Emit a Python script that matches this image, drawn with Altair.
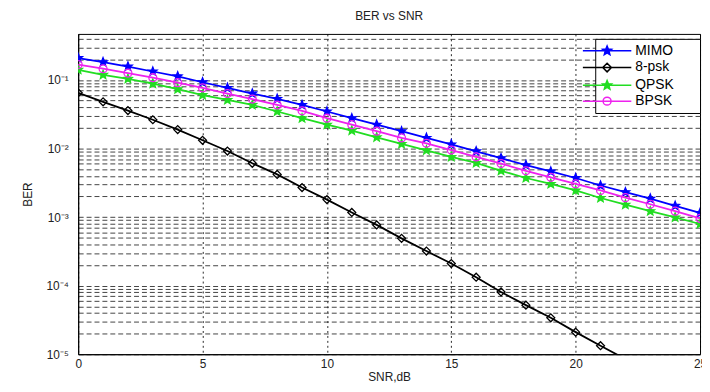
import math
import altair as alt
import pandas as pd

# ---------------- data ----------------
snr = list(range(0, 26))
series = ["MIMO", "8-psk", "QPSK", "BPSK"]
ber_mimo = [0.209, 0.182, 0.157, 0.133, 0.113, 0.0927, 0.0767, 0.0635, 0.0530, 0.0432,
            0.0347, 0.0277, 0.0223, 0.0179, 0.0143, 0.0115, 0.00912, 0.00723, 0.00573,
            0.00463, 0.00372, 0.00289, 0.00231, 0.00186, 0.00146, 0.00115]
ber_8psk = [0.065, 0.048, 0.0358, 0.0263, 0.0189, 0.0132, 0.0092, 0.0061, 0.0042, 0.0027,
            0.0018, 0.00117, 0.00077, 0.00049, 0.00032, 0.00021, 0.000133, 8.1e-5, 5.2e-5,
            3.4e-5, 2.1e-5, 1.33e-5, 8.5e-6, 5.5e-6, 3.6e-6, 2.3e-6]
ber_qpsk = [0.141, 0.119, 0.104, 0.0885, 0.0735, 0.0603, 0.0511, 0.0432, 0.0347, 0.0277,
            0.0223, 0.0183, 0.0146, 0.0117, 0.00942, 0.00755, 0.00618, 0.00474, 0.00372,
            0.00305, 0.00245, 0.00190, 0.00152, 0.00122, 0.000991, 0.000793]
ber_bpsk = [0.168, 0.146, 0.126, 0.108, 0.0914, 0.0767, 0.0635, 0.0527, 0.0432, 0.0355,
            0.0277, 0.0223, 0.0179, 0.0143, 0.0119, 0.00951, 0.00755, 0.00604, 0.00474,
            0.00380, 0.00305, 0.00245, 0.00192, 0.00154, 0.00122, 0.000958]
x_ticks = [0, 5, 10, 15, 20, 25]
y_major = [1e-5, 1e-4, 1e-3, 1e-2, 1e-1]
y_labels = ["10⁻⁵", "10⁻⁴", "10⁻³", "10⁻²", "10⁻¹"]

# ---------------- styling ----------------
colors = ["#0000ff", "#000000", "#22dd22", "#ee22ee"]
fills = ["#0000ff", "transparent", "#22dd22", "transparent"]
FONT = "Liberation Sans"

rows = []
for name, vals in zip(series, [ber_mimo, ber_8psk, ber_qpsk, ber_bpsk]):
    for s, b in zip(snr, vals):
        rows.append({"snr": s, "ber": b, "series": name})
df = pd.DataFrame(rows)


def star_pts(R, r):
    pts = []
    for i in range(10):
        ang = math.radians(-90 + 36 * i)
        rad = R if i % 2 == 0 else r
        pts.append((rad * math.cos(ang), rad * math.sin(ang)))
    return pts


def poly_path(pts):
    return "M" + " L".join(f"{px:.3f},{py:.3f}" for px, py in pts) + " Z"


star_unit = poly_path(star_pts(1.15, 0.5))
marker_shapes = [star_unit, "diamond", star_unit, "circle"]

# legend symbols: line + marker (unit = 2px with symbolSize 16)
leg_line = "M-12.25,0 L12.25,0"
leg_star = poly_path(star_pts(2.4, 1.05))
leg_diamond = "M0,-2.2 L2.2,0 L0,2.2 L-2.2,0 Z"
leg_circle = "M2,0 A2,2 0 1,1 -2,0 A2,2 0 1,1 2,0 Z"
legend_shapes = [leg_line + " " + leg_star, leg_line + " " + leg_diamond,
                 leg_line + " " + leg_star, leg_line + " " + leg_circle]

# y ticks: all decades with minor ticks (grid lines)
y_ticks = []
for k in range(-5, 0):
    for m in range(1, 10):
        v = float(f"{m}e{k}")
        if v <= 0.47:
            y_ticks.append(v)

label_expr = ""
for v, lab in zip(y_major, y_labels):
    label_expr += f"datum.value == {v!r} ? '{lab}' : "
label_expr += "''"

x_enc = alt.X("snr:Q",
              scale=alt.Scale(domain=[0, 25], nice=False, zero=False),
              axis=alt.Axis(values=x_ticks, title="SNR,dB", grid=True, gridDash=[2, 3],
                            gridColor="#000000", gridOpacity=0.85, ticks=False,
                            labelPadding=4, titlePadding=3, labelFontSize=12,
                            titleFontSize=12, titleFontWeight="normal", labelFont=FONT,
                            titleFont=FONT, labelColor="#222222", titleColor="#222222",
                            domainColor="#000000", labelFlush=False))
y_enc = alt.Y("ber:Q",
              scale=alt.Scale(type="log", domain=[1e-5, 0.47], nice=False),
              axis=alt.Axis(values=y_ticks, labelExpr=label_expr, title="BER", grid=True,
                            gridDash=[5, 3], gridColor="#222222", gridOpacity=0.85,
                            ticks=False, labelPadding=10, titlePadding=12,
                            labelFontSize=12, titleFontSize=12, titleFontWeight="normal",
                            labelFont=FONT, titleFont=FONT, labelColor="#222222",
                            titleColor="#222222", domainColor="#000000",
                            labelOverlap=False, labelFlush=False))

layers = []
for name, col, fil, shp in zip(series, colors, fills, marker_shapes):
    base = alt.Chart(df).transform_filter(alt.datum.series == name)
    ln = base.mark_line(strokeWidth=1.8, clip=True, color=col).encode(
        x=x_enc, y=y_enc, order=alt.Order("snr:Q"))
    pt = base.mark_point(
        shape=shp, size=64, opacity=1, strokeWidth=1.3, clip=True,
        stroke=col, fill=fil, filled=False,
    ).encode(x=x_enc, y=y_enc)
    layers += [ln, pt]

leg = alt.Legend(orient="none", legendX=523, legendY=5, title=" ", titleOrient="right",
                 titleFontSize=1, titlePadding=22, padding=5,
                 strokeColor="#000000", fillColor="#ffffff", symbolSize=16,
                 symbolStrokeWidth=1.5, labelFontSize=14, labelFont=FONT,
                 labelColor="#000000", labelOffset=21.5, symbolOffset=0, rowPadding=2)

legend_layer = alt.Chart(df).transform_filter("false").mark_point(
    size=16, strokeWidth=1.5, opacity=1
).encode(
    x=x_enc, y=y_enc,
    color=alt.Color("series:N", scale=alt.Scale(domain=series, range=colors), legend=leg),
    fill=alt.Fill("series:N", scale=alt.Scale(domain=series, range=fills), legend=leg),
    shape=alt.Shape("series:N", scale=alt.Scale(domain=series, range=legend_shapes),
                    legend=leg),
)

chart = alt.layer(*layers, legend_layer).properties(
    width=629, height=324,
    title=alt.TitleParams("BER vs SNR", fontSize=12, fontWeight="normal", font=FONT,
                          color="#222222", offset=10, anchor="middle"),
    autosize=alt.AutoSizeParams(type="none"),
    padding={"left": 71, "top": 24, "right": 2, "bottom": 36},
).configure_view(stroke="#000000", strokeWidth=1)

chart.save("out.html", embed_options={"renderer": "svg", "actions": False})
